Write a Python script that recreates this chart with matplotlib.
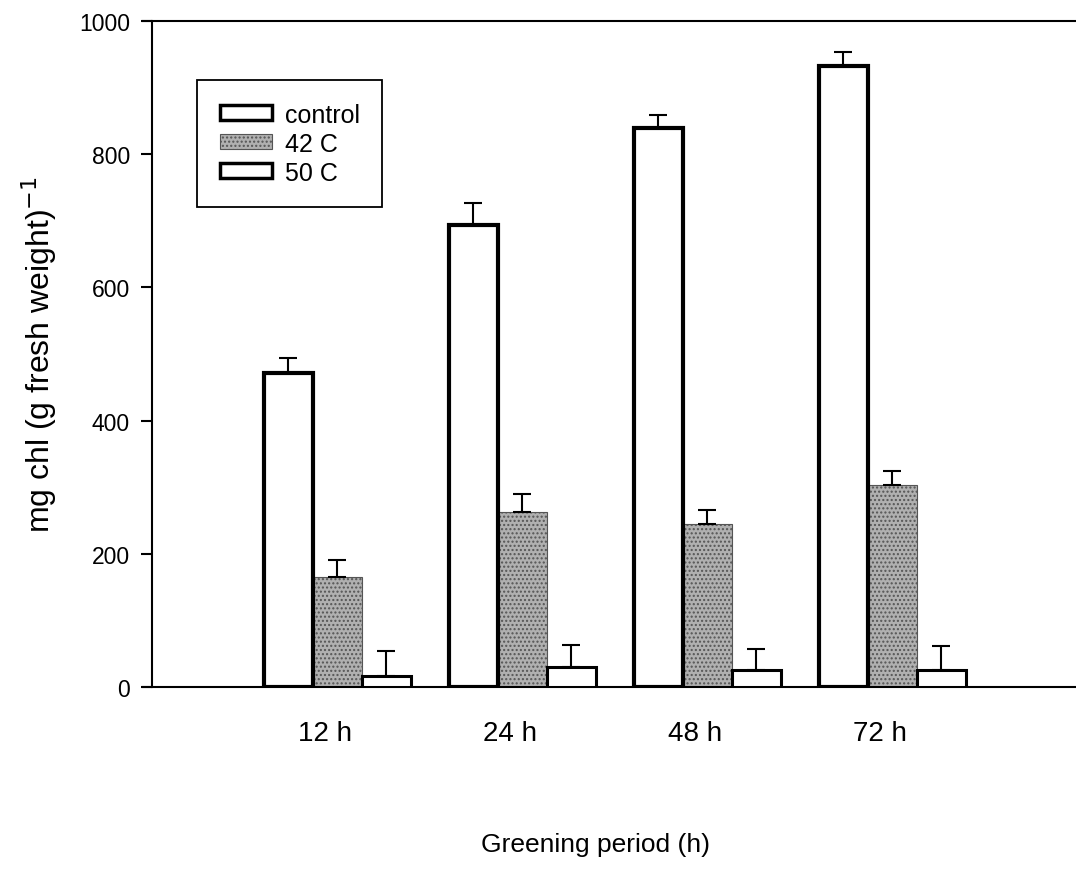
import numpy as np
import matplotlib
matplotlib.use("Agg")
import matplotlib.pyplot as plt
from matplotlib.patches import Patch

plt.rcParams['font.family'] = ['Liberation Sans', 'DejaVu Sans']

periods = ["12 h", "24 h", "48 h", "72 h"]
control = [472, 693, 840, 932]
control_err = [22, 33, 19, 21]
heat42 = [165, 263, 245, 303]
heat42_err = [26, 27, 21, 21]
heat50 = [16, 30, 25, 26]
heat50_err = [38, 33, 32, 35]

GREY = "#b0b0b0"
DOTS = "#555555"


def main():
    fig = plt.figure(figsize=(10.76, 8.87), dpi=100)
    ax = fig.add_axes([0.1329, 0.2244, 0.8662, 0.7508])

    x = np.arange(len(periods))
    w = 0.265
    zeros = np.zeros(len(periods))
    ebar = dict(ecolor="black", elinewidth=1.5, capsize=6.8, capthick=1.5)

    # 42 C bars first so the thick outlines of the white bars sit on top
    ax.bar(x + 0.065, heat42, w, yerr=[zeros, heat42_err], color=GREY,
           edgecolor=DOTS, hatch="....", linewidth=0.8, zorder=2,
           error_kw=ebar)
    ax.bar(x - 0.2, control, w, yerr=[zeros, control_err], color="white",
           edgecolor="black", linewidth=3.0, zorder=3, error_kw=ebar)
    ax.bar(x + 0.33, heat50, w, yerr=[zeros, heat50_err], color="white",
           edgecolor="black", linewidth=2.2, zorder=3, error_kw=ebar)

    ax.set_xlim(-0.984, 4.054)
    ax.set_ylim(0, 1000)
    ax.set_yticks(range(0, 1001, 200))
    ax.set_xticks(x)
    ax.set_xticklabels(periods)

    ax.spines["right"].set_visible(False)
    for side in ("left", "top", "bottom"):
        ax.spines[side].set_linewidth(1.5)
    ax.spines["left"].set_position(("axes", 9 / 932))

    ax.tick_params(axis="x", length=0, pad=24, labelsize=20)
    ax.tick_params(axis="y", length=8, width=1.5, pad=8, labelsize=16.5)

    ax.set_ylabel("mg chl (g fresh weight)$^{-1}$", fontsize=23)
    ax.yaxis.set_label_coords(-0.09, 0.5)
    ax.set_xlabel("Greening period (h)", fontsize=19)
    ax.xaxis.set_label_coords(0.485, -0.218)

    handles = [
        Patch(facecolor="white", edgecolor="black", linewidth=2.5, label="control"),
        Patch(facecolor=GREY, edgecolor=DOTS, hatch="....",
              linewidth=0.8, label="42 C"),
        Patch(facecolor="white", edgecolor="black", linewidth=2.5, label="50 C"),
    ]
    leg = ax.legend(handles=handles, loc="upper left",
                    bbox_to_anchor=(0.058, 0.911), borderaxespad=0,
                    fontsize=18, handlelength=2.1, handleheight=0.55,
                    handletextpad=0.5, labelspacing=0.2, borderpad=0.9,
                    fancybox=False, framealpha=1)
    leg.get_frame().set_edgecolor("black")
    leg.get_frame().set_linewidth(1.3)

    fig.savefig("out.png", dpi=100)


if __name__ == "__main__":
    main()
